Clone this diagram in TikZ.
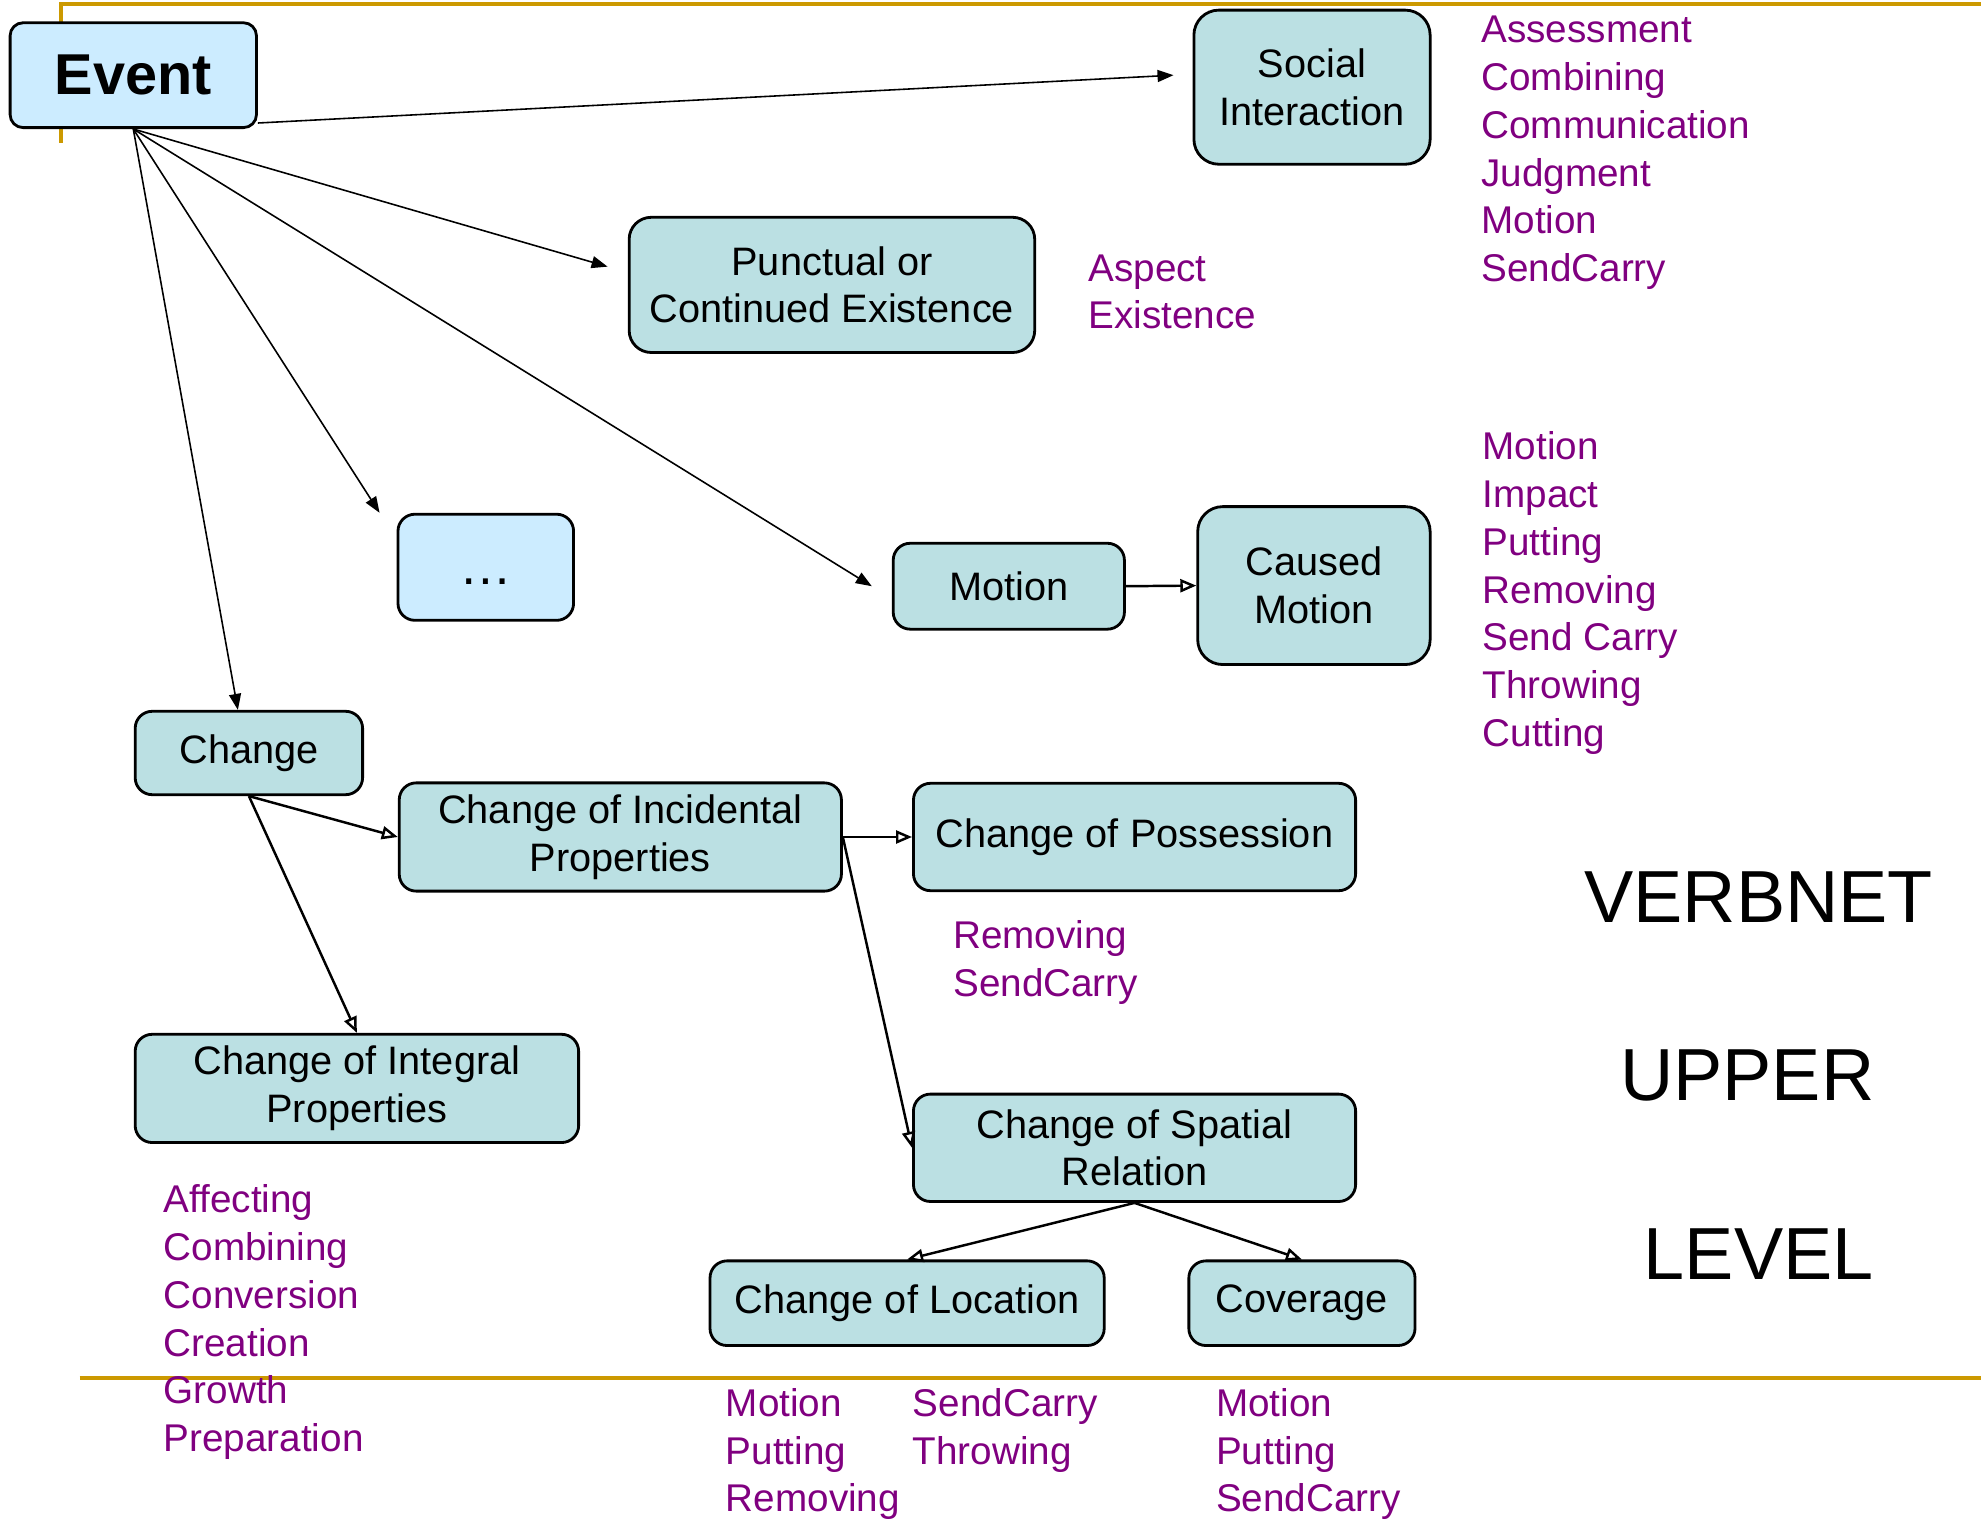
\documentclass[tikz,border=0pt]{standalone}
\usepackage{fontspec}
\setmainfont{Liberation Sans}
\usepackage{xcolor}
\usetikzlibrary{arrows.meta}

\definecolor{boxfill}{RGB}{187,224,227}
\definecolor{topfill}{RGB}{204,236,255}
\definecolor{verbpurple}{RGB}{128,0,128}
\definecolor{rulegold}{RGB}{204,153,0}

\begin{document}
\begin{tikzpicture}[x=0.012634cm, y=-0.012634cm,
    box/.style={draw, line width=0.8pt, rounded corners=0.17cm, fill=boxfill, align=center, font=\fontsize{11.3}{13.6}\selectfont},
    topbox/.style={box, fill=topfill},
    dim/.style 2 args={minimum width=#1*0.012634cm, minimum height=#2*0.012634cm},
    verbs/.style={anchor=west, inner sep=0pt, align=left, text=verbpurple, font=\fontsize{11}{13.6}\selectfont},
    tierword/.style={font=\fontsize{21}{25}\selectfont},
    isa/.style={line width=0.45pt, -{Triangle[length=0.16cm,width=0.12cm]}},
    sub/.style={line width=0.7pt, -{Triangle[open,length=0.16cm,width=0.13cm]}},
    goldrule/.style={rulegold, line width=1.1pt}]
        \useasboundingbox (0,0) rectangle (1568,1205);
        \draw[goldrule] (48,113) -- (48,3) -- (1568,3);
        \draw[goldrule] (63,1091) -- (1568,1091);

        \node[topbox, dim={195}{83}, rounded corners=0.13cm, font=\fontsize{16.4}{19}\selectfont\bfseries] (ev) at (105.5,59.5) {Event};
        \node[box, dim={187}{122}, rounded corners=0.25cm] (soc) at (1038.5,69) {Social\\Interaction};
        \node[box, dim={321}{107}, rounded corners=0.22cm] (pun) at (658.5,225.5) {Punctual or\\Continued Existence};
        \node[topbox, dim={139}{84}, font=\fontsize{15}{18}\selectfont, text height=0.35cm, text depth=0cm] (dots) at (384.5,449) {\dots};
        \node[box, dim={183}{68}] (mot) at (798.5,464) {Motion};
        \node[box, dim={184}{125}, rounded corners=0.25cm] (cau) at (1040,463.5) {Caused\\Motion};
        \node[box, dim={180}{66}] (chg) at (197,596) {Change};
        \node[box, dim={350}{85}] (inc) at (491,662.5) {Change of Incidental\\Properties};
        \node[box, dim={350}{85}] (pos) at (898,662.5) {Change of Possession};
        \node[box, dim={351}{85}] (int) at (282.5,861.5) {Change of Integral\\Properties};
        \node[box, dim={350}{85}] (spa) at (898,908.5) {Change of Spatial\\Relation};
        \node[box, dim={312}{67}] (loc) at (718,1031.5) {Change of Location};
        \node[box, dim={179}{67}] (cov) at (1030.5,1031.5) {Coverage};

        \node[verbs] (socv) at (1172,121) {Assessment\\Combining\\Communication\\Judgment\\Motion\\SendCarry};
        \node[verbs] (punv) at (861,231) {Aspect\\Existence};
        \node[verbs] (cauv) at (1173,469.5) {Motion\\Impact\\Putting\\Removing\\Send Carry\\Throwing\\Cutting};
        \node[verbs] (posv) at (754,762) {Removing\\SendCarry};
        \node[verbs] (intv) at (129,1046.5) {Affecting\\Combining\\Conversion\\Creation\\Growth\\Preparation};
        \node[verbs] (locv) at (574,1151) {Motion\\Putting\\Removing};
        \node[verbs] (locw) at (722,1132) {SendCarry\\Throwing};
        \node[verbs] (covv) at (962,1151) {Motion\\Putting\\SendCarry};

        \node[tierword] (verbnet) at (1392,710) {VERBNET};
        \node[tierword] (upper) at (1383,851) {UPPER};
        \node[tierword] (lvl) at (1392,993) {LEVEL};

        \draw[isa, shorten >=0.19cm] ([yshift=0.06cm]ev.south east) -- ([yshift=0.13cm]soc.west);
        \draw[isa, shorten >=0.21cm] (ev.south) -- ([yshift=0.124cm]pun.west);
        \draw[isa] (ev.south) -- ([xshift=-0.17cm]dots.north west);
        \draw[isa] (ev.south) -- ([xshift=-0.2cm]mot.west);
        \draw[isa] (ev.south) -- ([xshift=-0.11cm]chg.north);

        \draw[sub] (mot.east) -- (cau.west);
        \draw[sub] (chg.south) -- (inc.west);
        \draw[sub] (chg.south) -- (int.north);
        \draw[sub] (inc.east) -- (pos.west);
        \draw[sub] (inc.east) -- (spa.west);
        \draw[sub] (spa.south) -- (loc.north);
        \draw[sub] (spa.south) -- (cov.north);
    \end{tikzpicture}
\end{document}
